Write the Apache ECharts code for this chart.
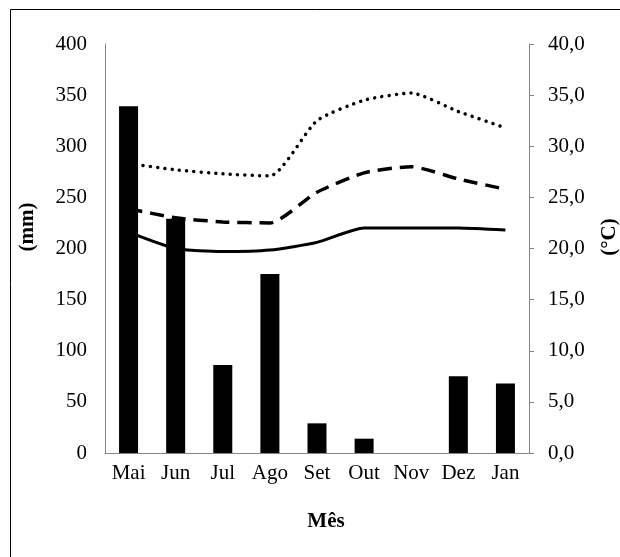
<!DOCTYPE html>
<html>
<head>
<meta charset="utf-8">
<script src="https://cdn.jsdelivr.net/npm/echarts@6/dist/echarts.min.js"></script>
<style>html,body{margin:0;padding:0;background:#fff;}#c{width:620px;height:557px;}</style>
</head>
<body>
<div id="c"></div>
<script>
var months = ['Mai','Jun','Jul','Ago','Set','Out','Nov','Dez','Jan'];
var precipitation = [339, 229, 86, 175, 29, 14, 0, 75, 68];
var tempMax = [28.3, 27.7, 27.3, 27.1, 32.5, 34.5, 35.2, 33.4, 31.8];
var tempMean = [23.9, 23.0, 22.6, 22.5, 25.5, 27.4, 28.0, 26.8, 25.8];
var tempMin = [21.6, 20.0, 19.7, 19.85, 20.6, 22.0, 22.0, 22.0, 21.8];
var leftTicks = {min: 0, max: 400, interval: 50};
var rightTicks = {min: 0, max: 40, interval: 5};

var FONT = '"Liberation Serif", "Times New Roman", serif';
var chart = echarts.init(document.getElementById('c'), null, {renderer: 'canvas'});
chart.setOption({
  animation: false,
  backgroundColor: '#fff',
  grid: {left: 105, right: 91, top: 44, bottom: 104},
  xAxis: {
    type: 'category', data: months, boundaryGap: true,
    axisLine: {lineStyle: {color: '#868686', width: 1}},
    axisTick: {show: false},
    axisLabel: {color: '#000', fontFamily: FONT, fontSize: 21, margin: 10, interval: 0, hideOverlap: false}
  },
  yAxis: [{
    type: 'value', min: leftTicks.min, max: leftTicks.max, interval: leftTicks.interval,
    axisLine: {show: true, lineStyle: {color: '#868686', width: 1}},
    axisTick: {show: false},
    splitLine: {show: false},
    axisLabel: {color: '#000', fontFamily: FONT, fontSize: 21, margin: 18}
  }, {
    type: 'value', min: rightTicks.min, max: rightTicks.max, interval: rightTicks.interval,
    position: 'right',
    axisLine: {show: true, lineStyle: {color: '#868686', width: 1}},
    axisTick: {show: true, length: 5, lineStyle: {color: '#868686'}},
    splitLine: {show: false},
    axisLabel: {color: '#000', fontFamily: FONT, fontSize: 21, margin: 19,
      formatter: function (v) { return v.toFixed(1).replace('.', ','); }}
  }],
  series: [{
    type: 'bar', data: precipitation, yAxisIndex: 0, barWidth: 19,
    itemStyle: {color: '#000'}
  }, {
    type: 'line', data: tempMax, yAxisIndex: 1, smooth: 0.2, symbol: 'none',
    lineStyle: {color: '#000', width: 3.5, type: [0.01, 7.3], cap: 'round'}
  }, {
    type: 'line', data: tempMean, yAxisIndex: 1, smooth: 0.2, symbol: 'none',
    lineStyle: {color: '#000', width: 3.5, type: [14, 8], cap: 'butt'}
  }, {
    type: 'line', data: tempMin, yAxisIndex: 1, smooth: 0.2, symbol: 'none',
    lineStyle: {color: '#000', width: 3}
  }],
  graphic: [{
    type: 'rect', shape: {x: 10.5, y: 9.5, width: 700, height: 700},
    style: {fill: null, stroke: '#000', lineWidth: 1}, silent: true
  }, {
    type: 'text', x: 326, y: 522,
    style: {text: 'Mês', font: 'bold 21px ' + FONT, fill: '#000', align: 'center', verticalAlign: 'middle'}
  }, {
    type: 'text', x: 28, y: 227, rotation: Math.PI / 2,
    style: {text: '(mm)', font: 'bold 21px ' + FONT, fill: '#000', align: 'center', verticalAlign: 'middle'}
  }, {
    type: 'text', x: 610, y: 237, rotation: Math.PI / 2,
    style: {text: '(°C)', font: 'bold 21px ' + FONT, fill: '#000', align: 'center', verticalAlign: 'middle'}
  }]
});
</script>
</body>
</html>
